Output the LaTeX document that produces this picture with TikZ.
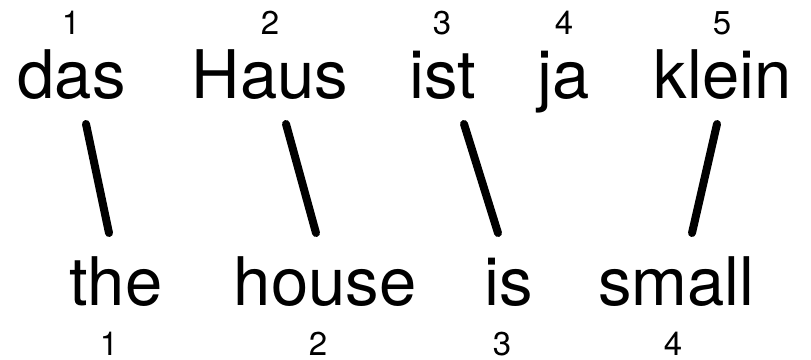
\documentclass[tikz,border=0pt]{standalone}
\usepackage{fontspec}
\setmainfont{TeX Gyre Heros}
\begin{document}
\begin{tikzpicture}[x=1pt,y=-1pt,
  word/.style={anchor=base,inner sep=0pt,font=\fontsize{67}{80}\selectfont},
  idx/.style={anchor=base,inner sep=0pt,font=\fontsize{33}{40}\selectfont},
  link/.style={line width=8pt,line cap=round}]
\useasboundingbox (0,0) rectangle (811,359);
% German
\node[word] (das) at (71.5,98) {das};
\node[word] (haus) at (270,98) {Haus};
\node[word] (ist) at (443,98) {ist};
\node[word] (ja) at (563.5,98) {ja};
\node[word] (klein) at (722.5,98) {klein};
\node[idx] (g1) at (71,34) {1};
\node[idx] (g2) at (270,34) {2};
\node[idx] (g3) at (442,34) {3};
\node[idx] (g4) at (564,34) {4};
\node[idx] (g5) at (722,34) {5};
% English
\node[word] (the) at (116,305) {the};
\node[word] (house) at (325,305) {house};
\node[word] (is) at (509,305) {is};
\node[word] (small) at (676.5,305) {small};
\node[idx] (e1) at (109,355) {1};
\node[idx] (e2) at (318,355) {2};
\node[idx] (e3) at (502,355) {3};
\node[idx] (e4) at (673,355) {4};
% alignment end points
\coordinate (t1) at (86,124);  \coordinate (b1) at (109,233);
\coordinate (t2) at (286,124); \coordinate (b2) at (316,233);
\coordinate (t3) at (464,124); \coordinate (b3) at (498,233);
\coordinate (t5) at (717,124); \coordinate (b4) at (692,233);
\draw[link] (t1) -- (b1);
\draw[link] (t2) -- (b2);
\draw[link] (t3) -- (b3);
\draw[link] (t5) -- (b4);
\end{tikzpicture}
\end{document}
